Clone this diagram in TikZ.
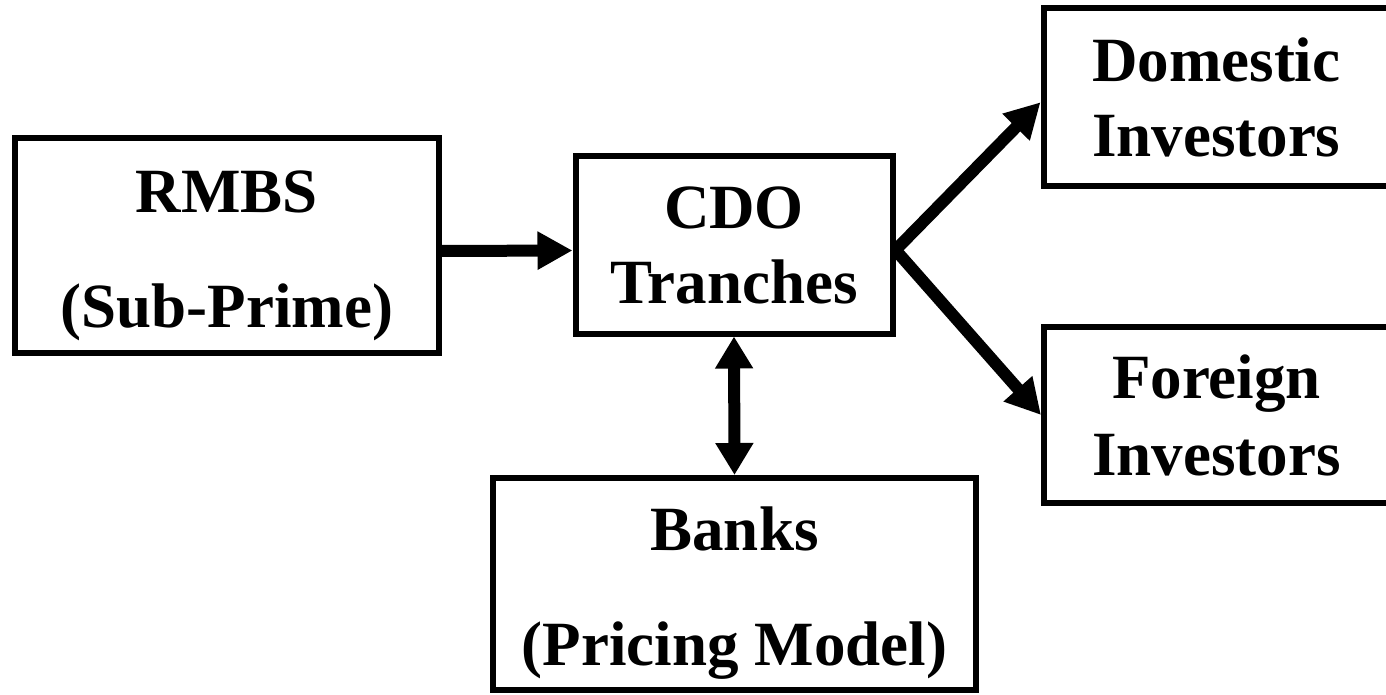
\documentclass[tikz,border=0pt]{standalone}
\usepackage{fontspec}
\setmainfont{Liberation Serif}
\usetikzlibrary{arrows.meta}
\newcommand{\topgap}{\rule{0pt}{31pt}}
\begin{document}
\begin{tikzpicture}[x=0.5pt,y=-0.5pt,
  box/.style={draw=black,line width=3pt,inner sep=0pt,align=center,
    font=\fontsize{31.5pt}{37.5pt}\selectfont\bfseries},
  widebox/.style={box,font=\fontsize{31.5pt}{57.5pt}\selectfont\bfseries},
  flow/.style={line width=6pt,-{Triangle[length=17.5pt,width=18pt]}},
  dflow/.style={line width=6pt,{Triangle[length=16pt,width=18pt]}-{Triangle[length=16pt,width=18pt]}}]
\useasboundingbox (0,0) rectangle (1386,695);
\node[widebox,minimum width=211.75pt,minimum height=107.5pt] (rmbs) at (226.75,245.5) {\topgap RMBS\\(Sub-Prime)};
\node[box,minimum width=158.5pt,minimum height=88.5pt] (cdo) at (734,245) {CDO\\Tranches};
\node[box,minimum width=172.75pt,minimum height=88.75pt] (dom) at (1216.25,97.25) {Domestic\\Investors};
\node[box,minimum width=172.5pt,minimum height=88pt,font=\fontsize{31.5pt}{38.5pt}\selectfont\bfseries] (frn) at (1216.5,415) {Foreign\\Investors};
\node[widebox,minimum width=241.5pt,minimum height=106pt] (bank) at (734.5,584) {\topgap Banks\\(Pricing Model)};
\draw[flow] ([yshift=-2.75pt]rmbs.east) -- ([yshift=-2.75pt]cdo.west);
\draw[flow] ([yshift=-2.5pt]cdo.east) -- ([yshift=-2.5pt]dom.west);
\draw[flow] ([yshift=-2.5pt]cdo.east) -- (frn.west);
\draw[dflow] (cdo.south) -- (bank.north);
\end{tikzpicture}
\end{document}
